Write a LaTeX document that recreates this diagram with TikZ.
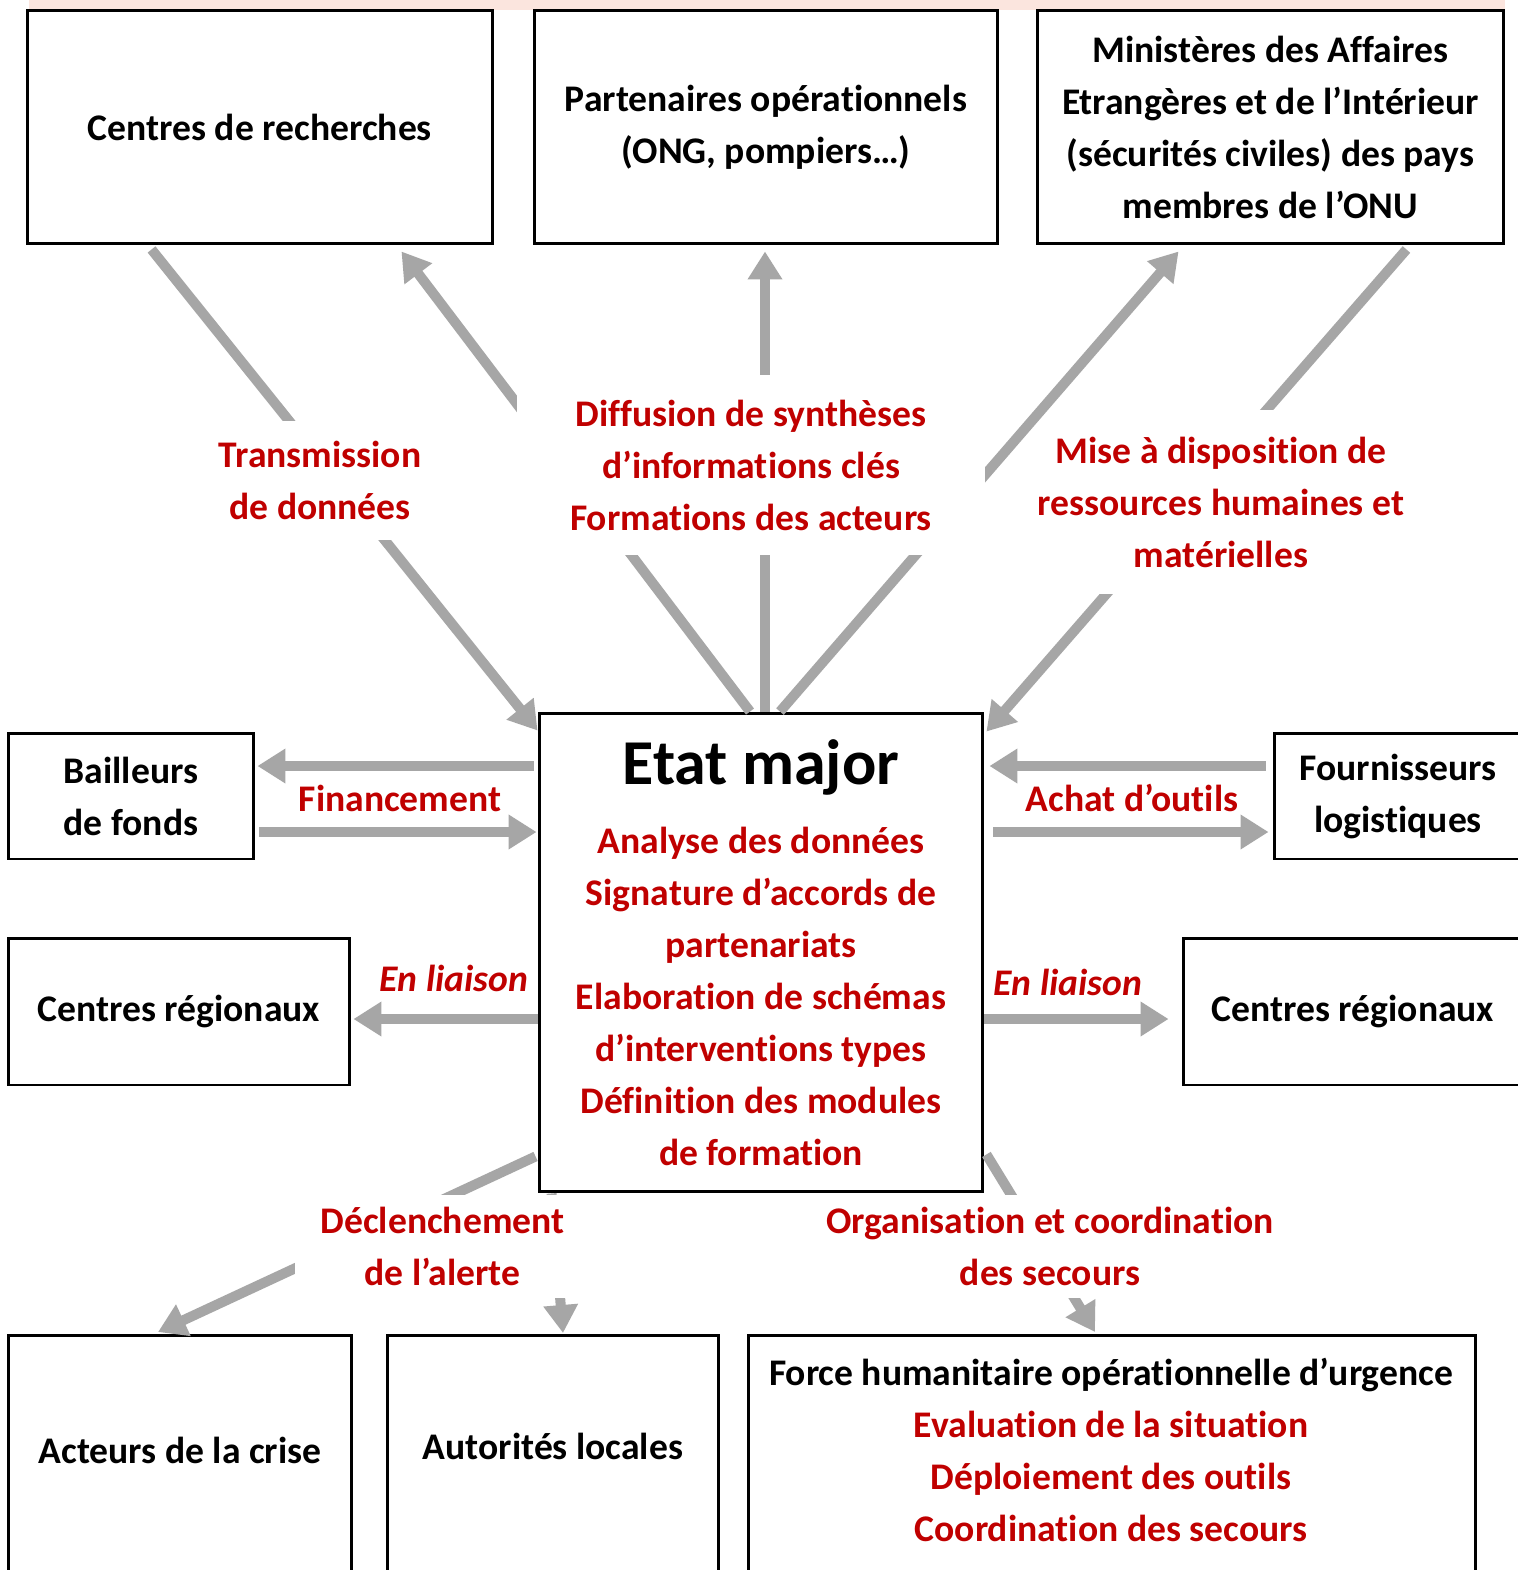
\documentclass[tikz,border=0pt]{standalone}
\usepackage{fontspec}
\setmainfont{Carlito}[Ligatures=NoCommon]
\usetikzlibrary{arrows.meta,calc}
\definecolor{rouge}{HTML}{C00000}
\definecolor{gris}{HTML}{A6A6A6}
\definecolor{rose}{HTML}{FBE5DE}

\begin{document}
\begin{tikzpicture}[x=0.02cm, y=-0.02cm,
    police/.style={font=\bfseries\fontsize{21.4}{29.6}\selectfont, align=center},
    boite/.style={police, draw=black, line width=1.7pt, fill=white, inner sep=0pt},
    rouge texte/.style={police, text=rouge},
    cache/.style={rouge texte, fill=white, inner sep=0pt},
    fleche/.style={draw=gris, line width=5.7pt, -{Triangle[width=0.66cm,length=0.56cm]}}]

    % Cadre de la page
    \clip (0,0) rectangle (1518,1570);
    \fill[white] (0,0) rectangle (1518,1570);
    \fill[rose] (29,0) rectangle (1505,10);

    % Cadres du haut
    \node[boite, minimum width=9.32cm, minimum height=4.68cm] (recherche) at (260,127) {Centres de recherches};
    \node[boite, minimum width=9.28cm, minimum height=4.68cm] (partenaires) at (766,127) {Partenaires opérationnels\\(ONG, pompiers…)};
    \node[boite, minimum width=9.34cm, minimum height=4.68cm] (ministeres) at (1270.5,127) {Ministères des Affaires\\Etrangères et de l’Intérieur\\(sécurités civiles) des pays\\membres de l’ONU};

    % Etat major au centre
    \node[boite, minimum width=8.88cm, minimum height=9.58cm] (etat) at (761,952.5) {};
    \node[police, font=\bfseries\fontsize{36.4}{40}\selectfont] (etattitre) at (761,767) {Etat major};
    \node[rouge texte] (etattaches) at (761,996) {Analyse des données\\Signature d’accords de\\partenariats\\Elaboration de schémas\\d’interventions types\\Définition des modules\\de formation};

    % Cadres sur les côtés
    \node[boite, minimum width=4.92cm, minimum height=2.52cm] (bailleurs) at (131,796) {Bailleurs\\de fonds};
    \node[boite, minimum width=4.96cm, minimum height=2.52cm] (fournisseurs) at (1398,796) {Fournisseurs\\logistiques};
    \node[boite, minimum width=6.84cm, minimum height=2.94cm] (regiong) at (179,1011.5) {Centres régionaux};
    \node[boite, minimum width=6.80cm, minimum height=2.94cm] (regiond) at (1353,1011.5) {Centres régionaux};

    % Cadres du bas (coupés en bas de page)
    \node[boite, minimum width=6.88cm, minimum height=6cm, anchor=north] (acteurs) at (180,1334) {};
    \node[boite, minimum width=6.64cm, minimum height=6cm, anchor=north] (autorites) at (553,1334) {};
    \node[boite, minimum width=14.56cm, minimum height=6cm, anchor=north] (force) at (1112,1334) {};
    \node[police] (acteurstxt) at (180,1450) {Acteurs de la crise};
    \node[police] (autoritestxt) at (553,1446) {Autorités locales};
    \node[police] (forcetxt) at (1111,1450) {Force humanitaire opérationnelle d’urgence\\\textcolor{rouge}{Evaluation de la situation}\\\textcolor{rouge}{Déploiement des outils}\\\textcolor{rouge}{Coordination des secours}};

    % Flèches vers le haut
    \draw[fleche] ($(recherche.south west)+(126,4)$) -- ($(etat.north west)+(0,19)$);
    \draw[fleche] ($(etat.north)+(-11,0)$) -- ($(recherche.south east)+(-93,6)$);
    \draw[fleche] ($(etat.north)+(4,0)$) -- ($(partenaires.south)+(-1,6)$);
    \draw[fleche] ($(etat.north)+(19,0)$) -- ($(ministeres.south west)+(143,6)$);
    \draw[fleche] ($(ministeres.south east)+(-99,4)$) -- ($(etat.north east)+(2,20)$);

    % Flèches horizontales
    \draw[fleche] ($(etat.west)+(-4,-186.5)$) -- ($(bailleurs.east)+(2,-30)$);
    \draw[fleche] ($(bailleurs.east)+(4,36)$) -- ($(etat.west)+(-1,-120.5)$);
    \draw[fleche] ($(fournisseurs.west)+(-7,-30)$) -- ($(etat.east)+(5,-186.5)$);
    \draw[fleche] ($(etat.east)+(9,-120.5)$) -- ($(fournisseurs.west)+(-4,36)$);
    \draw[fleche] ($(etat.west)+(0,66.5)$) -- ($(regiong.east)+(2,7.5)$);
    \draw[fleche] ($(etat.east)+(0,66.5)$) -- ($(regiond.west)+(-13,7.5)$);

    % Flèches vers le bas
    \draw[fleche] ($(etat.south west)+(-2,-37)$) -- ($(acteurs.north)+(-22,-2)$);
    \draw[fleche] ($(etat.south west)+(14,0)$) -- ($(autorites.north)+(10,-1)$);
    \draw[fleche] ($(etat.south east)+(2,-39)$) -- ($(force.north)+(-17,-2)$);

    % Etiquettes sur fond blanc
    \node[cache, minimum width=4.6cm, minimum height=2.38cm] (transmission) at (320,480.5) {Transmission\\de données};
    \node[cache, minimum width=9.36cm, minimum height=3.6cm] (diffusion) at (751,465) {Diffusion de synthèses\\d’informations clés\\Formations des acteurs};
    \fill[white] (1054,410) rectangle (1396,594);
    \node[rouge texte] (miseadispo) at (1221,502) {Mise à disposition de\\ressources humaines et\\matérielles};
    \node[cache, minimum width=5.9cm, minimum height=2.06cm] (declenchement) at (442.5,1246.5) {Déclenchement\\de l’alerte};
    \node[cache, minimum width=9.2cm, minimum height=2.06cm] (organisation) at (1050,1246.5) {Organisation et coordination\\des secours};

    % Etiquettes des flèches horizontales
    \node[rouge texte] (financement) at (400,798) {Financement};
    \node[rouge texte] (achat) at (1132,798) {Achat d’outils};
    \node[rouge texte, font=\bfseries\itshape\fontsize{21.4}{29.6}\selectfont] (liaisong) at (454,978) {En liaison};
    \node[rouge texte, font=\bfseries\itshape\fontsize{21.4}{29.6}\selectfont] (liaisond) at (1068,982) {En liaison};
\end{tikzpicture}
\end{document}
